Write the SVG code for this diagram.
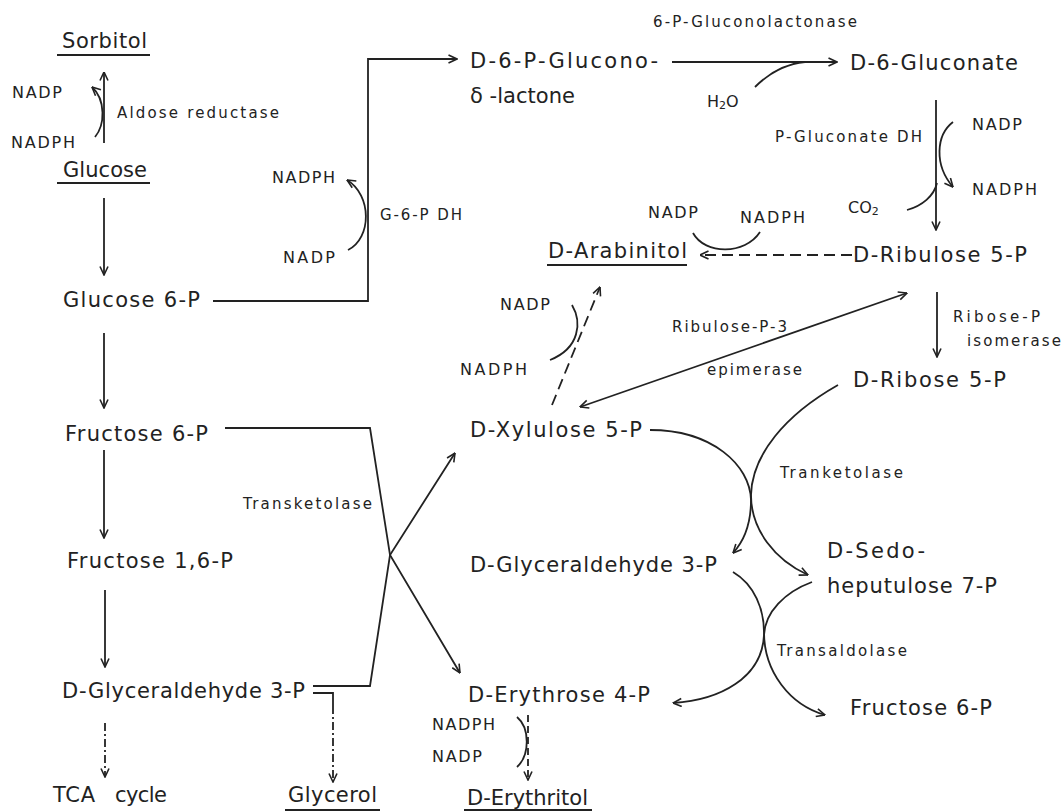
<svg xmlns="http://www.w3.org/2000/svg" width="1063" height="811" viewBox="0 0 1063 811">
<style>
text{font-family:"DejaVu Sans","Liberation Sans",Arial,sans-serif;fill:#222;}
.m{font-size:21px;}
.s{font-size:15px;}
.c{font-size:16px;}
.ln{fill:none;stroke:#222;stroke-width:1.8;}
.ul{stroke:#222;stroke-width:2.2;}
.dash{stroke-dasharray:11 6;}
.dot{stroke-dasharray:8 3 2 3;}
.sd{stroke-dasharray:7 4;}
</style>
<defs>
<marker id="a" viewBox="0 0 10 10" refX="9.5" refY="5" markerWidth="10" markerHeight="10" markerUnits="userSpaceOnUse" orient="auto-start-reverse">
<path d="M1,1 L9.5,5 L1,9" fill="none" stroke="#222" stroke-width="1.6" stroke-dasharray="none"/>
</marker>
</defs>
<rect width="1063" height="811" fill="#fff"/>

<g id="sorbitol"><text class="m" x="62" y="48" textLength="85" lengthAdjust="spacing">Sorbitol</text><line class="ul" x1="57" y1="55" x2="150" y2="55"/></g>
<g id="glucose"><text class="m" x="63" y="177" textLength="84" lengthAdjust="spacing">Glucose</text><line class="ul" x1="57" y1="183" x2="150" y2="183"/></g>
<g id="glucose6p"><text class="m" x="63" y="307" textLength="137" lengthAdjust="spacing">Glucose 6-P</text></g>
<g id="fructose6p"><text class="m" x="65" y="441" textLength="143" lengthAdjust="spacing">Fructose 6-P</text></g>
<g id="fructose16p"><text class="m" x="67" y="568" textLength="166" lengthAdjust="spacing">Fructose 1,6-P</text></g>
<g id="gap-left"><text class="m" x="62" y="698" textLength="243" lengthAdjust="spacing">D-Glyceraldehyde 3-P</text></g>
<g id="tca"><text class="m" x="53" y="802"><tspan textLength="42" lengthAdjust="spacing">TCA</tspan><tspan x="115" textLength="52" lengthAdjust="spacing">cycle</tspan></text></g>
<g id="glycerol"><text class="m" x="288" y="802" textLength="89" lengthAdjust="spacing">Glycerol</text><line class="ul" x1="285" y1="810" x2="380" y2="810"/></g>
<g id="gluconolactone"><text class="m" x="470" y="68" textLength="188" lengthAdjust="spacing">D-6-P-Glucono-</text><text class="m" x="470" y="103" textLength="105" lengthAdjust="spacing">δ -lactone</text></g>
<g id="gluconate"><text class="m" x="850" y="70" textLength="168" lengthAdjust="spacing">D-6-Gluconate</text></g>
<g id="arabinitol"><text class="m" x="548" y="258" textLength="139" lengthAdjust="spacing">D-Arabinitol</text><line class="ul" x1="547" y1="265" x2="687" y2="265"/></g>
<g id="ribulose5p"><text class="m" x="853" y="262" textLength="174" lengthAdjust="spacing">D-Ribulose 5-P</text></g>
<g id="ribose5p"><text class="m" x="853" y="387" textLength="153" lengthAdjust="spacing">D-Ribose 5-P</text></g>
<g id="xylulose5p"><text class="m" x="470" y="437" textLength="172" lengthAdjust="spacing">D-Xylulose 5-P</text></g>
<g id="gap-mid"><text class="m" x="470" y="572" textLength="247" lengthAdjust="spacing">D-Glyceraldehyde 3-P</text></g>
<g id="sedoheptulose"><text class="m" x="827" y="558" textLength="98" lengthAdjust="spacing">D-Sedo-</text><text class="m" x="827" y="593" textLength="170" lengthAdjust="spacing">heputulose 7-P</text></g>
<g id="erythrose4p"><text class="m" x="468" y="702" textLength="182" lengthAdjust="spacing">D-Erythrose 4-P</text></g>
<g id="fructose6p-right"><text class="m" x="850" y="715" textLength="142" lengthAdjust="spacing">Fructose 6-P</text></g>
<g id="erythritol"><text class="m" x="467" y="805" textLength="121" lengthAdjust="spacing">D-Erythritol</text><line class="ul" x1="464" y1="810" x2="592" y2="810"/></g>

<g id="enzymes">
<text class="s" x="117" y="118" textLength="162" lengthAdjust="spacing">Aldose reductase</text>
<text class="s" x="653" y="27" textLength="204" lengthAdjust="spacing">6-P-Gluconolactonase</text>
<text class="s" x="775" y="142" textLength="147" lengthAdjust="spacing">P-Gluconate DH</text>
<text class="s" x="380" y="220" textLength="82" lengthAdjust="spacing">G-6-P DH</text>
<text class="s" x="672" y="332" textLength="115" lengthAdjust="spacing">Ribulose-P-3</text>
<text class="s" x="707" y="375" textLength="95" lengthAdjust="spacing">epimerase</text>
<text class="s" x="953" y="322" textLength="87" lengthAdjust="spacing">Ribose-P</text>
<text class="s" x="967" y="346" textLength="94" lengthAdjust="spacing">isomerase</text>
<text class="s" x="243" y="509" textLength="129" lengthAdjust="spacing">Transketolase</text>
<text class="s" x="780" y="478" textLength="123" lengthAdjust="spacing">Tranketolase</text>
<text class="s" x="777" y="656" textLength="130" lengthAdjust="spacing">Transaldolase</text>
</g>

<g id="cofactors">
<text class="c" x="12" y="98" textLength="50" lengthAdjust="spacing">NADP</text>
<text class="c" x="11" y="148" textLength="64" lengthAdjust="spacing">NADPH</text>
<text class="c" x="272" y="183" textLength="63" lengthAdjust="spacing">NADPH</text>
<text class="c" x="283" y="263" textLength="52" lengthAdjust="spacing">NADP</text>
<text class="c" x="707" y="107">H<tspan font-size="11" dy="2">2</tspan><tspan dy="-2">O</tspan></text>
<text class="c" x="972" y="130" textLength="50" lengthAdjust="spacing">NADP</text>
<text class="c" x="972" y="195" textLength="65" lengthAdjust="spacing">NADPH</text>
<text class="c" x="848" y="213">CO<tspan font-size="11" dy="2">2</tspan></text>
<text class="c" x="648" y="218" textLength="50" lengthAdjust="spacing">NADP</text>
<text class="c" x="740" y="223" textLength="65" lengthAdjust="spacing">NADPH</text>
<text class="c" x="500" y="310" textLength="50" lengthAdjust="spacing">NADP</text>
<text class="c" x="460" y="375" textLength="67" lengthAdjust="spacing">NADPH</text>
<text class="c" x="432" y="730" textLength="63" lengthAdjust="spacing">NADPH</text>
<text class="c" x="432" y="762" textLength="50" lengthAdjust="spacing">NADP</text>
</g>

<g id="connectors">
<path class="ln" d="M104,143 V72" marker-end="url(#a)"/>
<path class="ln" d="M95,137 C105,125 106,100 92,87" marker-end="url(#a)"/>
<path class="ln" d="M104,198 V275" marker-end="url(#a)"/>
<path class="ln" d="M213,301 H368 V59 H457" marker-end="url(#a)"/>
<path class="ln" d="M348,250 C372,238 372,195 347,180" marker-end="url(#a)"/>
<path class="ln" d="M672,62 H837" marker-end="url(#a)"/>
<path class="ln" d="M755,87 C770,72 785,64 805,62"/>
<path class="ln" d="M936,100 V230" marker-end="url(#a)"/>
<path class="ln" d="M953,122 C936,135 934,165 953,187" marker-end="url(#a)"/>
<path class="ln" d="M907,210 C922,206 934,196 937,183"/>
<path class="ln dash" d="M852,255 H700" marker-end="url(#a)"/>
<path class="ln" d="M693,233 C705,255 745,255 760,232"/>
<path class="ln" d="M937,292 V357" marker-end="url(#a)"/>
<path class="ln" d="M907,293 L580,407" marker-start="url(#a)" marker-end="url(#a)"/>
<path class="ln dash" d="M552,405 L600,287" marker-end="url(#a)"/>
<path class="ln" d="M572,305 C582,322 580,348 550,360"/>
<path class="ln" d="M104,333 V408" marker-end="url(#a)"/>
<path class="ln" d="M104,450 V538" marker-end="url(#a)"/>
<path class="ln" d="M105,590 V667" marker-end="url(#a)"/>
<path class="ln dot" d="M105,723 V777" marker-end="url(#a)"/>
<path class="ln" d="M225,428 H370 L390,555 L460,673" marker-end="url(#a)"/>
<path class="ln" d="M313,686 H370 L390,555 L455,453" marker-end="url(#a)"/>
<path class="ln" d="M313,693 H333 V706"/>
<path class="ln dot" d="M333,706 V782" marker-end="url(#a)"/>
<path class="ln" d="M650,430 C712,430 750,465 751,500 C751,522 745,540 733,553" marker-end="url(#a)"/>
<path class="ln" d="M838,385 C785,415 752,455 751,495 C751,530 775,560 808,575" marker-end="url(#a)"/>
<path class="ln" d="M733,572 C755,585 764,610 764,632 C764,672 790,705 825,715" marker-end="url(#a)"/>
<path class="ln" d="M812,582 C785,592 765,612 764,635 C762,678 720,700 673,703" marker-end="url(#a)"/>
<path class="ln sd" d="M528,715 V780" marker-end="url(#a)"/>
<path class="ln" d="M517,717 C530,728 530,755 517,767"/>
</g>
</svg>
